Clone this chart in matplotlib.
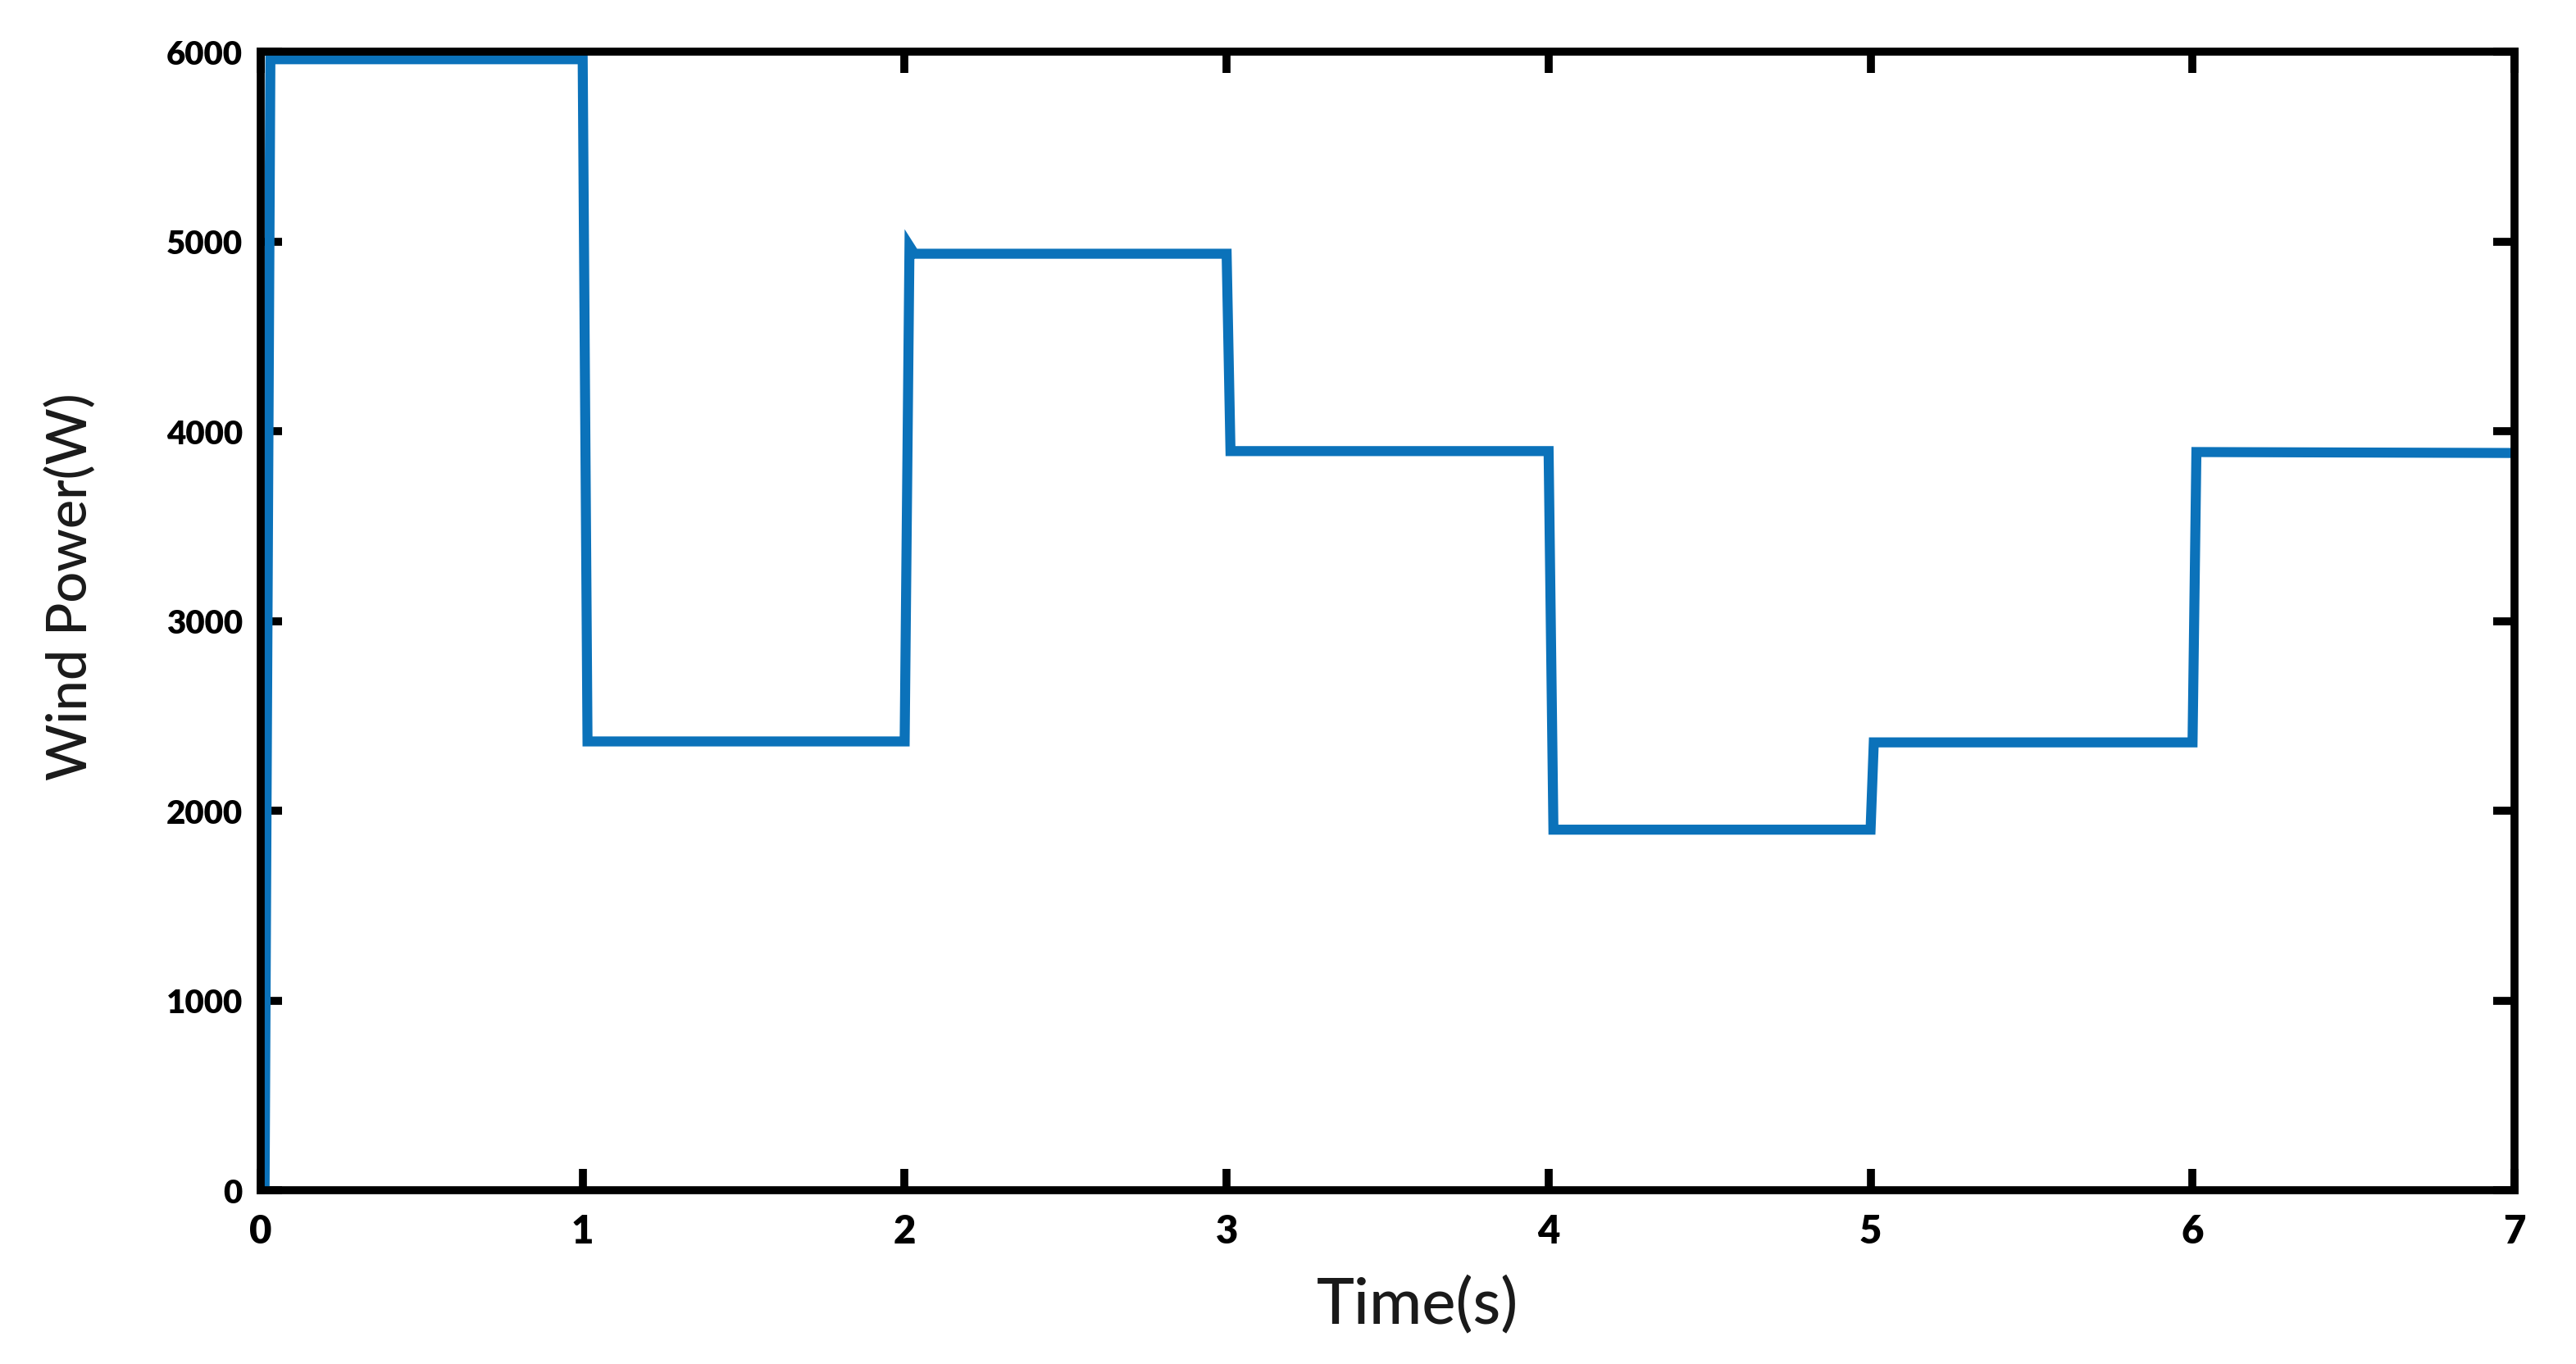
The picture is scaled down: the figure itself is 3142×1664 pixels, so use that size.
import matplotlib
matplotlib.use("Agg")
import matplotlib.pyplot as plt

# Data
time_s = [0.0, 0.012, 0.03, 1.0, 1.015, 2.0, 2.015, 2.03, 3.0, 3.012, 4.0, 4.015, 5.0, 5.01, 6.0, 6.012, 7.0]
power_w = [0, 0, 5960, 5960, 2365, 2365, 4975, 4935, 4935, 3895, 3895, 1900, 1900, 2360, 2360, 3890, 3885]

x_ticks = [0, 1, 2, 3, 4, 5, 6, 7]
y_ticks = [0, 1000, 2000, 3000, 4000, 5000, 6000]

W, H, DPI = 3142, 1665, 200
fig = plt.figure(figsize=(W / DPI, H / DPI), dpi=DPI)
ax = fig.add_axes([318 / W, 1 - 1453 / H, (3067 - 318) / W, (1453 - 64) / H])

ax.plot(time_s, power_w, color="#0B72BA", lw=4.4, solid_joinstyle="miter")

ax.set_xlim(0, 7)
ax.set_ylim(0, 6000)
ax.set_xticks(x_ticks)
ax.set_yticks(y_ticks)
ax.set_xticklabels([str(v) for v in x_ticks], fontfamily="Lato", fontweight="heavy", fontsize=17)
ax.set_yticklabels([str(v) for v in y_ticks], fontfamily="Lato", fontweight="heavy", fontsize=14.5)

for s in ax.spines.values():
    s.set_linewidth(3.5)
    s.set_color("black")
ax.tick_params(direction="in", length=9.4, width=3.5, top=True, right=True, colors="black")
ax.tick_params(axis="x", pad=10)
ax.tick_params(axis="y", pad=8)

fig.text(1729 / W, 1 - 1592 / H, "Time(s)", ha="center", va="center",
         fontfamily="Lato", fontweight="medium", fontsize=28, color="#1a1a1a")
fig.text(86 / W, 1 - 716 / H, "Wind Power(W)", ha="center", va="center", rotation=90,
         fontfamily="Lato", fontweight="medium", fontsize=24, color="#1a1a1a")

fig.savefig("out.png", dpi=DPI, facecolor="white")
